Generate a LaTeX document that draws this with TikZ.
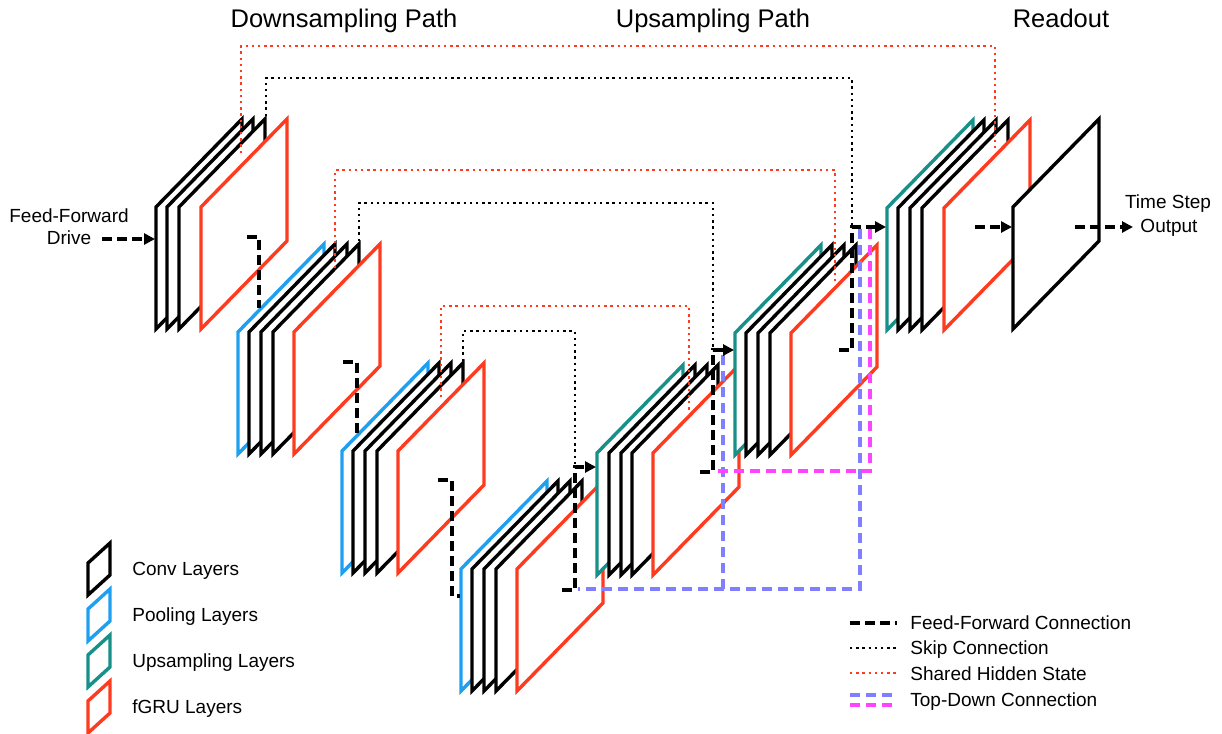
\documentclass[tikz,border=0pt]{standalone}
\usepackage{fontspec}
\setmainfont{Liberation Sans}
\usetikzlibrary{arrows.meta}
\definecolor{fred}{HTML}{FF3B1F}
\definecolor{fblue}{HTML}{1E9FF0}
\definecolor{fteal}{HTML}{179089}
\definecolor{tdblue}{HTML}{7F7FFF}
\definecolor{tdmag}{HTML}{FF44FF}
\newcommand\mylay[3]{\draw[lay,draw=#1] (#2,#3) -- ++(0,-122) -- ++(86,-88) -- ++(0,122) -- cycle;}
\newcommand\myicon[3]{\draw[lay,draw=#1] (#2,#3) -- ++(0,-32) -- ++(22,-20) -- ++(0,32) -- cycle;}
\begin{document}
\begin{tikzpicture}[x=0.5pt,y=-0.5pt,
 lay/.style={line width=1.7pt,fill=white,line join=miter},
 ff/.style={line width=1.6pt,dash pattern=on 5pt off 2.5pt},
 ffa/.style={ff,-{Triangle[length=5.5pt,width=5.5pt]}},
 skipc/.style={line width=1.45pt,dash pattern=on 1.2pt off 1.9pt},
 shared/.style={skipc,draw=fred},
 tdb/.style={line width=1.6pt,draw=tdblue,dash pattern=on 5pt off 3pt},
 tdm/.style={tdb,draw=tdmag},
 lbl/.style={font=\fontsize{9.5}{11}\selectfont,inner sep=0pt},
 ttl/.style={font=\fontsize{12.75}{15}\selectfont,inner sep=0pt}]
\useasboundingbox (0,0) rectangle (1222,734);

% titles
\node[ttl,anchor=base] (t1) at (344,27) {Downsampling Path};
\node[ttl,anchor=base] (t2) at (713,27) {Upsampling Path};
\node[ttl,anchor=base] (t3) at (1061,27) {Readout};

% block 1
\mylay{black}{156}{329}\mylay{black}{167}{329}\mylay{black}{179}{329}\mylay{fred}{201}{329}
% block 2
\mylay{fblue}{238}{454}\mylay{black}{249}{454}\mylay{black}{261}{454}\mylay{black}{273}{454}\mylay{fred}{294}{454}
% block 3
\mylay{fblue}{342}{573}\mylay{black}{353}{573}\mylay{black}{365}{573}\mylay{black}{377}{573}\mylay{fred}{398}{573}
% block 4
\mylay{fblue}{461}{691}\mylay{black}{472}{691}\mylay{black}{484}{691}\mylay{black}{496}{691}\mylay{fred}{517}{691}
% block 5
\mylay{fteal}{597}{575}\mylay{black}{609}{575}\mylay{black}{621}{575}\mylay{black}{632}{575}\mylay{fred}{653}{575}
% block 6
\mylay{fteal}{735}{455}\mylay{black}{746}{455}\mylay{black}{758}{455}\mylay{black}{770}{455}\mylay{fred}{791}{455}
% block 7
\mylay{fteal}{887}{330}\mylay{black}{898}{330}\mylay{black}{910}{330}\mylay{black}{922}{330}\mylay{fred}{944}{330}
% readout
\mylay{black}{1013}{329}

% input / output text
\node[lbl,anchor=base] (in1) at (69,222) {Feed-Forward};
\node[lbl,anchor=base] (in2) at (69,244) {Drive};
\node[lbl,anchor=base] (out1) at (1168,208) {Time Step};
\node[lbl,anchor=base] (out2) at (1169,232) {Output};

% shared hidden state
\draw[shared] (241,153) -- (241,46) -- (995,46) -- (995,150);
\draw[shared] (335,268) -- (335,170) -- (835,170) -- (835,282);
\draw[shared] (441,397) -- (441,306) -- (689,306) -- (689,410);
% skip connections
\draw[skipc] (266,116) -- (266,78) -- (852,78) -- (852,227);
\draw[skipc] (359,241) -- (359,203) -- (713,203) -- (713,350);
\draw[skipc] (463,361) -- (463,331) -- (575,331) -- (575,467);

% top-down
\draw[tdb] (860,229) -- (860,589) -- (578,589);
\draw[tdb] (723,589) -- (723,353);
\draw[tdm] (870,229) -- (870,471) -- (718,471);

% feed-forward
\draw[ffa] (102,239) -- (155,239);
\draw[ff] (247,237) -- (259,237) -- (259,308);
\draw[ff] (343,362) -- (357,362) -- (357,436);
\draw[ff] (438,480) -- (452,480) -- (452,596) -- (460,596);
\draw[ffa] (562,590) -- (575,590) -- (575,467) -- (596,467);
\draw[ffa] (700,472) -- (713,472) -- (713,350) -- (734,350);
\draw[ffa] (839,350) -- (852,350) -- (852,227) -- (886,227);
\draw[ffa] (975,227) -- (1012,227);
\draw[ffa] (1075,227) -- (1133,227);

% legend
\myicon{black}{88}{595}
\myicon{fblue}{88}{641}
\myicon{fteal}{88}{687}
\myicon{fred}{88}{733}
\node[lbl,anchor=base west] (l1) at (132,575) {Conv Layers};
\node[lbl,anchor=base west] (l2) at (132,621) {Pooling Layers};
\node[lbl,anchor=base west] (l3) at (132,667) {Upsampling Layers};
\node[lbl,anchor=base west] (l4) at (132,713) {fGRU Layers};

\draw[ff] (850,623) -- (897,623);
\draw[skipc] (850,648) -- (897,648);
\draw[shared] (850,673) -- (897,673);
\draw[tdb] (850,695) -- (897,695);
\draw[tdm] (850,705) -- (897,705);
\node[lbl,anchor=base west] (c1) at (910,629) {Feed-Forward Connection};
\node[lbl,anchor=base west] (c2) at (910,654) {Skip Connection};
\node[lbl,anchor=base west] (c3) at (910,680) {Shared Hidden State};
\node[lbl,anchor=base west] (c4) at (910,706) {Top-Down Connection};
\end{tikzpicture}
\end{document}
